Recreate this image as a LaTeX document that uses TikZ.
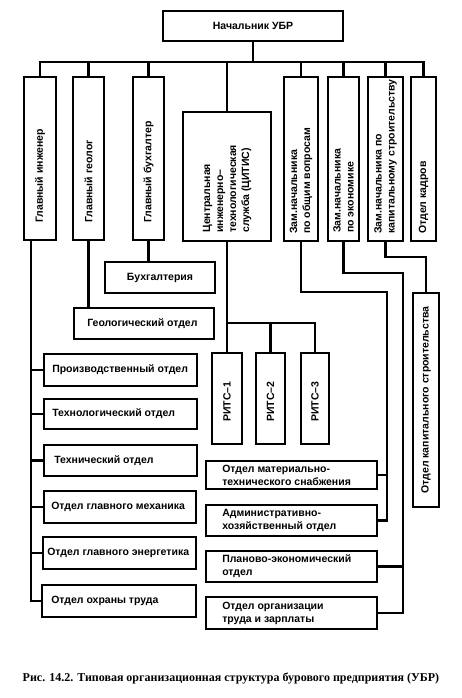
\documentclass[tikz,border=0pt]{standalone}
\usepackage{fontspec}
\setmainfont{Liberation Sans}
\newfontfamily\capfont{Liberation Serif}
\begin{document}
\begin{tikzpicture}[x=1pt,y=-1pt,
  box/.style={draw, line width=1.9pt, rectangle, inner sep=0pt},
  conn/.style={line width=2.7pt, line join=miter},
  txt/.style={font=\bfseries\fontsize{10.5}{13}\selectfont, inner sep=0pt, align=left},
  vtxt/.style={txt, rotate=90, anchor=west}]
\fill[white] (0,0) rectangle (461,698);
\useasboundingbox (0,0) rectangle (461,698);
\newcommand\bx[5]{\node[box, minimum width={#4-#2}, minimum height={#5-#3}] (#1) at ({(#2+#4)/2},{(#3+#5)/2}) {};}
% boxes
\bx{chief}{163}{11}{343}{41}
\bx{gi}{24}{77}{56}{240}
\bx{gg}{73}{77}{104}{240}
\bx{gb}{133}{77}{164}{240}
\bx{citis}{183}{112}{271}{241}
\bx{zo}{284}{77}{318}{241}
\bx{ze}{328}{77}{359}{241}
\bx{zk}{368}{77}{403}{241}
\bx{kadry}{411}{77}{436}{241}
\bx{buh}{105}{262}{215}{293}
\bx{geo}{74}{308}{214}{339}
\bx{prod}{44}{354}{197}{386}
\bx{tl}{44}{399}{197}{429}
\bx{tc}{44}{445}{197}{476}
\bx{mech}{44}{491}{196}{523}
\bx{en}{43}{537}{196}{569}
\bx{ohr}{42}{585}{196}{617}
\bx{r1}{212}{353}{242}{444}
\bx{r2}{256}{353}{285}{444}
\bx{r3}{301}{353}{329}{444}
\bx{mts}{206}{461}{377}{489}
\bx{aho}{206}{505}{377}{536}
\bx{peo}{206}{551}{377}{582}
\bx{otiz}{206}{597}{377}{629}
\bx{okap}{413}{293}{439}{507}
% texts
\node[txt] (chief-t) at (chief.center) {Начальник УБР};
\node[vtxt] (gi-t) at ([yshift=18pt]gi.south) {Главный инженер};
\node[vtxt] (gg-t) at ([yshift=18pt]gg.south) {Главный геолог};
\node[vtxt] (gb-t) at ([yshift=18pt]gb.south) {Главный бухгалтер};
\node[vtxt] (citis-t) at ([yshift=9pt]citis.south) {Центральная\\инженерно–\\технологическая\\служба (ЦИТИС)};
\node[vtxt] (zo-t) at ([yshift=8pt]zo.south) {Зам.начальника\\по общим вопросам};
\node[vtxt] (ze-t) at ([yshift=9pt]ze.south) {Зам.начальника\\по экономике};
\node[vtxt] (zk-t) at ([yshift=8pt]zk.south) {Зам.начальника по\\капитальному строительству};
\node[vtxt] (kadry-t) at ([yshift=8pt]kadry.south) {Отдел кадров};
\node[txt] (buh-t) at (buh.center) {Бухгалтерия};
\node[txt, anchor=west] (geo-t) at ([xshift=14pt]geo.west) {Геологический отдел};
\node[txt, anchor=west] (prod-t) at ([xshift=9pt]prod.west) {Производственный отдел};
\node[txt, anchor=west] (tl-t) at ([xshift=9pt]tl.west) {Технологический отдел};
\node[txt, anchor=west] (tc-t) at ([xshift=11pt]tc.west) {Технический отдел};
\node[txt, anchor=west] (mech-t) at ([xshift=8pt]mech.west) {Отдел главного механика};
\node[txt, anchor=west] (en-t) at ([xshift=5pt]en.west) {Отдел главного энергетика};
\node[txt, anchor=west] (ohr-t) at ([xshift=10pt]ohr.west) {Отдел охраны труда};
\node[txt, rotate=90] (r1-t) at ([yshift=-3pt]r1.center) {РИТС–1};
\node[txt, rotate=90] (r2-t) at ([yshift=-3pt]r2.center) {РИТС–2};
\node[txt, rotate=90] (r3-t) at ([yshift=-3pt]r3.center) {РИТС–3};
\node[txt, anchor=west] (mts-t) at ([xshift=17pt]mts.west) {Отдел материально-\\технического снабжения};
\node[txt, anchor=west] (aho-t) at ([xshift=17pt]aho.west) {Административно-\\хозяйственный отдел};
\node[txt, anchor=west] (peo-t) at ([xshift=17pt]peo.west) {Планово-экономический\\отдел};
\node[txt, anchor=west] (otiz-t) at ([xshift=17pt]otiz.west) {Отдел организации\\труда и зарплаты};
\node[txt, rotate=90] (okap-t) at (okap.center) {Отдел капитального строительства};
% connectors
\coordinate (bus) at (0,62);
\draw[conn] (chief.south) -- (chief.south |- bus);
\draw[conn] (gi.north) -- (gi.north |- bus) -- (kadry.north |- bus) -- (kadry.north);
\foreach \n in {gg,gb,citis,zo,ze,zk} \draw[conn] (\n.north) -- (\n.north |- bus);
\coordinate (sp) at ([xshift=8pt]gi.south west);
\draw[conn] (sp) |- (ohr.west);
\foreach \n in {prod,tl,tc,mech,en} \draw[conn] (\n.west) -- (\n.west -| sp);
\draw[conn] (gg.south) -- (gg.south |- geo.north);
\draw[conn] (gb.south) -- (gb.south |- buh.north);
\coordinate (rb) at (0,323);
\draw[conn] (citis.south) -- (r1.north);
\draw[conn] (citis.south |- rb) -| (r3.north);
\draw[conn] (r2.north) -- (r2.north |- rb);
\coordinate (k1) at (387,292);
\draw[conn] (zo.south) |- (k1) |- (aho.east);
\draw[conn] (mts.east) -- (mts.east -| k1);
\coordinate (k2) at (403,273);
\draw[conn] (ze.south) |- (k2) |- (otiz.east);
\draw[conn] (peo.east) -- (peo.east -| k2);
\coordinate (k3) at (426,257);
\draw[conn] (zk.south) |- (k3) -- (okap.north);
% caption
\node[font=\capfont\bfseries\fontsize{12}{14}\selectfont, inner sep=0pt] (cap) at (231,678) {Рис. 14.2. Типовая организационная структура бурового предприятия (УБР)};
\end{tikzpicture}
\end{document}
